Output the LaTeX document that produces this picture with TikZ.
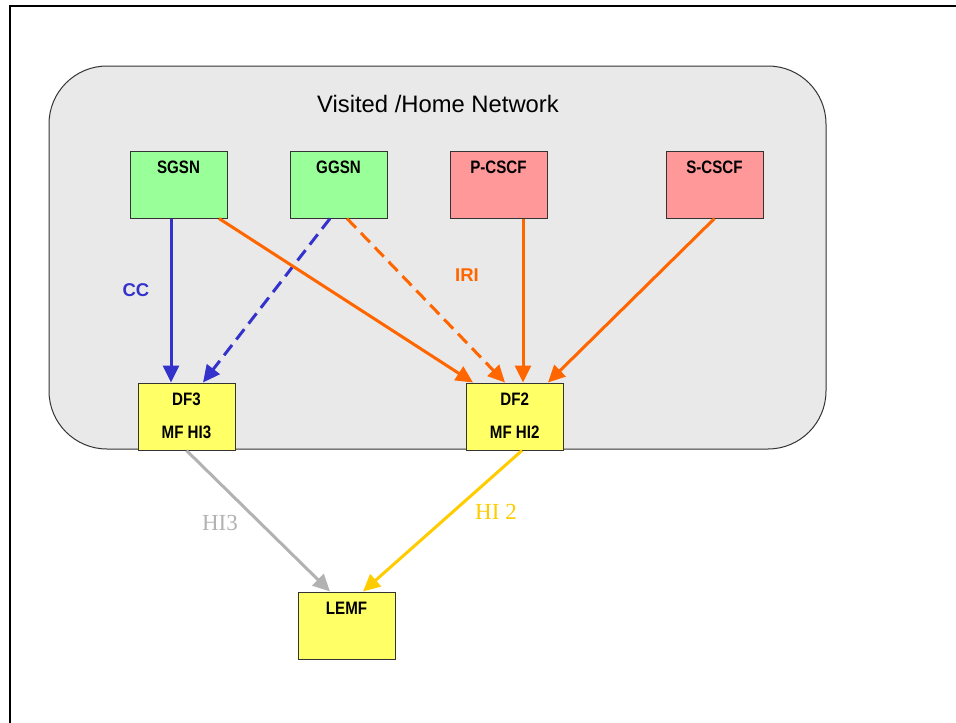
\documentclass[tikz,border=0pt]{standalone}
\usepackage{fontspec}
\setmainfont{Liberation Sans}
\newfontfamily\narrowfont{Liberation Sans}[FakeStretch=0.84]
\newfontfamily\timesfont{Liberation Serif}
\usetikzlibrary{arrows.meta}
\definecolor{netgray}{HTML}{E9E9E9}
\definecolor{gsnfill}{HTML}{99FF99}
\definecolor{cscffill}{HTML}{FF9999}
\definecolor{dffill}{HTML}{FFFF66}
\definecolor{ccblue}{HTML}{3333CC}
\definecolor{iriorange}{HTML}{FF6600}
\definecolor{hithree}{HTML}{B2B2B2}
\definecolor{hitwo}{HTML}{FFCC00}

\begin{document}
\begin{tikzpicture}[x=1pt,y=-1pt,>={Triangle[length=17pt,width=16pt]},
  net node/.style={draw=black!80,line width=1pt,minimum width=97pt,
    minimum height=67pt,inner sep=0pt},
  box text/.style={font=\narrowfont\bfseries\fontsize{18}{20}\selectfont,
    anchor=base,inner sep=0pt},
  link/.style={->,line width=3pt},
  dash link/.style={link,dash pattern=on 13pt off 7pt}]

  \useasboundingbox (0,0) rectangle (956,723);
  \draw[line width=2pt] (10,740) -- (10,6) -- (970,6);

  % network area
  \node[draw=black!80,line width=1pt,fill=netgray,rounded corners=58pt,
    minimum width=777pt,minimum height=383pt] (net) at (437.5,257.5) {};
  \node[anchor=base,font=\fontsize{23.8}{26}\selectfont] at (438,112)
    {Visited /Home Network};

  \node[net node,fill=gsnfill] (sgsn) at (178.5,184.5) {};
  \node[net node,fill=gsnfill] (ggsn) at (338.5,184.5) {};
  \node[net node,fill=cscffill] (pcscf) at (498.5,184.5) {};
  \node[net node,fill=cscffill] (scscf) at (714.5,184.5) {};
  \node[net node,fill=dffill] (df3) at (186.5,416.5) {};
  \node[net node,fill=dffill] (df2) at (514.7,416.5) {};
  \node[net node,fill=dffill] (lemf) at (346.5,625.5) {};

  \node[box text] at ([yshift=-23pt]sgsn.north) {SGSN};
  \node[box text] at ([yshift=-23pt]ggsn.north) {GGSN};
  \node[box text] at ([yshift=-23pt]pcscf.north) {P-CSCF};
  \node[box text] at ([yshift=-23pt]scscf.north) {S-CSCF};
  \node[box text] at ([yshift=-23pt]df3.north) {DF3};
  \node[box text] at ([yshift=-55.5pt]df3.north) {MF HI3};
  \node[box text] at ([yshift=-23pt]df2.north) {DF2};
  \node[box text] at ([yshift=-55.5pt]df2.north) {MF HI2};
  \node[box text] at ([yshift=-23pt]lemf.north) {LEMF};

  \path[link,ccblue]
    ([xshift=-7.5pt]sgsn.south) edge ([xshift=-15.5pt]df3.north);
  \path[dash link,ccblue]
    ([xshift=-8.5pt]ggsn.south) edge ([xshift=16.5pt]df3.north);
  \path[link,iriorange]
    ([xshift=40.5pt]sgsn.south) edge ([xshift=-41.7pt]df2.north)
    ([xshift=24.5pt]pcscf.south) edge ([xshift=8.3pt]df2.north)
    (scscf.south) edge ([xshift=33.3pt]df2.north);
  \path[dash link,iriorange]
    ([xshift=8.5pt]ggsn.south) edge ([xshift=-9.7pt]df2.north);
  \path[link,hithree]
    (df3.south) edge ([xshift=-16.5pt]lemf.north);
  \path[link,hitwo]
    ([xshift=7.3pt]df2.south) edge ([xshift=16.5pt]lemf.north);

  \node[anchor=base,text=ccblue,font=\bfseries\fontsize{18.5}{20}\selectfont]
    at (136,296.7) {CC};
  \node[anchor=base,text=iriorange,font=\bfseries\fontsize{18.5}{20}\selectfont]
    at (467,281.7) {IRI};
  \node[anchor=base,text=hithree,font=\timesfont\fontsize{23}{25}\selectfont]
    at (220,530) {HI3};
  \node[anchor=base,text=hitwo,font=\timesfont\fontsize{23}{25}\selectfont]
    at (496,519) {HI 2};

\end{tikzpicture}
\end{document}
